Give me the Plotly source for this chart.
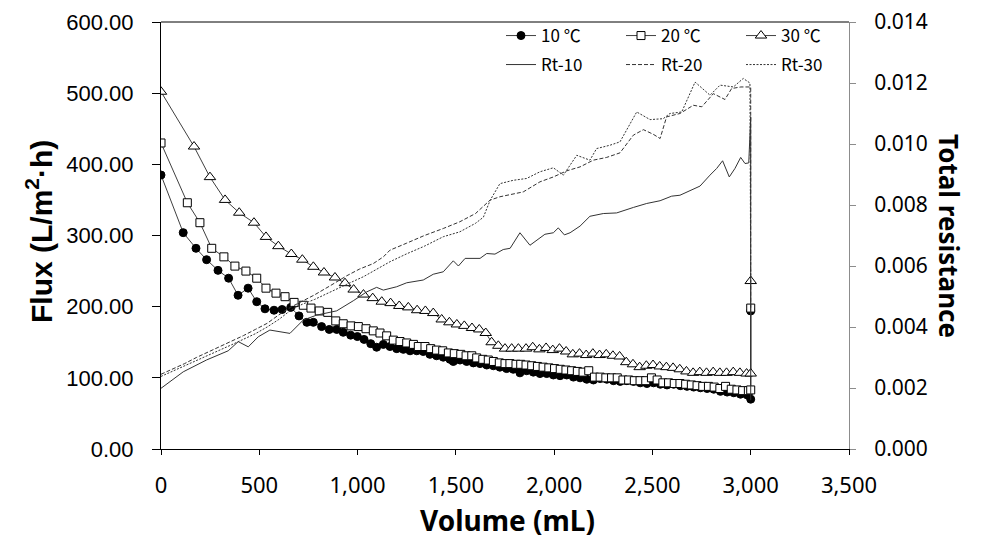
import plotly.graph_objects as go

# ---------------- data ----------------
vol_10 = [0, 113, 178, 232, 290, 344, 392, 443, 487, 529, 575, 616, 660, 702, 742, 775, 817, 856, 894, 927,
          965, 999, 1033, 1067, 1097, 1131, 1165, 1199, 1233, 1267, 1301, 1334, 1368, 1402, 1436, 1470, 1487,
          1521, 1555, 1589, 1623, 1657, 1691, 1724, 1758, 1792, 1826, 1860, 1894, 1928, 1962, 1996, 2030, 2064,
          2098, 2132, 2166, 2200, 2234, 2268, 2302, 2336, 2370, 2404, 2438, 2472, 2506, 2540, 2574, 2608, 2642,
          2676, 2710, 2744, 2778, 2812, 2846, 2880, 2914, 2948, 2982, 3000, 3000]
flux_10 = [385, 304, 282, 266, 251, 240, 216, 226, 207, 197, 195, 196, 199, 187, 178, 178, 172, 168, 168, 164,
           160, 158, 154, 148, 143, 147, 144, 141, 140, 138, 138, 137, 133, 131, 129, 126, 123,
           125, 123, 121, 120, 118, 117, 115, 113, 112, 107, 110, 108, 106, 106, 104, 103, 104,
           101, 100, 98, 97, 99, 98, 96, 95, 96, 95, 93, 92, 93, 91, 90, 91, 89,
           88, 87, 86, 85, 84, 81, 80, 79, 77, 76, 70, 194]

vol_20 = [0, 134, 198, 258, 320, 376, 432, 487, 534, 585, 631, 677, 724, 763, 805, 848, 889, 927, 967, 1004,
          1043, 1080, 1114, 1148, 1182, 1216, 1250, 1284, 1309, 1343, 1372, 1402, 1433, 1462, 1492, 1525, 1552,
          1581, 1606, 1637, 1665, 1691, 1721, 1750, 1775, 1806, 1830, 1857, 1886, 1915, 1944, 1973, 2002, 2031,
          2060, 2089, 2118, 2147, 2176, 2205, 2234, 2263, 2292, 2321, 2350, 2379, 2408, 2437, 2466, 2495, 2524,
          2553, 2582, 2611, 2640, 2669, 2698, 2727, 2756, 2785, 2814, 2843, 2872, 2901, 2930, 2959, 2988, 3000, 3000]
flux_20 = [430, 346, 318, 282, 270, 257, 250, 240, 226, 219, 214, 206, 202, 198, 194, 192, 180, 176, 173, 172,
           169, 166, 163, 159, 153, 151, 149, 147, 144, 144, 141, 139, 138, 135, 134, 133, 131,
           131, 128, 126, 125, 123, 121, 120, 120, 119, 119, 118, 117, 116, 115, 114, 113, 112,
           111, 110, 109, 108, 110, 101, 101, 100, 100, 100, 97, 97, 96, 96, 96, 100, 97,
           93, 93, 92, 92, 91, 90, 89, 88, 88, 87, 85, 88, 84, 83, 82, 82, 83, 198]

vol_30 = [0, 168, 249, 326, 398, 473, 534, 597, 663, 719, 775, 829, 885, 936, 980, 1030, 1077, 1123, 1168,
          1212, 1258, 1303, 1345, 1385, 1428, 1467, 1505, 1543, 1582, 1619, 1652, 1682, 1716, 1750, 1784,
          1818, 1857, 1891, 1925, 1959, 1993, 2027, 2061, 2095, 2129, 2163, 2197, 2231, 2265, 2299, 2333,
          2367, 2401, 2435, 2469, 2503, 2537, 2571, 2605, 2639, 2673, 2707, 2741, 2775, 2809, 2843, 2877,
          2911, 2945, 2979, 3000, 3000]
flux_30 = [502, 425, 382, 350, 332, 318, 298, 285, 274, 266, 256, 248, 241, 233, 224, 217, 212, 207, 205,
           201, 199, 195, 194, 191, 182, 178, 175, 173, 170, 168, 163, 150, 145, 141, 141,
           141, 141, 143, 140, 142, 139, 141, 137, 133, 134, 132, 134, 132, 133, 131, 130,
           122, 119, 115, 117, 118, 116, 115, 114, 112, 109, 107, 108, 107, 108, 107, 107,
           108, 107, 106, 106, 236]

vol_r10 = [0, 113, 232, 342, 393, 444, 495, 554, 656, 724, 792, 894, 978, 1046, 1097, 1131, 1199, 1250, 1334,
           1385, 1436, 1487, 1513, 1547, 1623, 1657, 1699, 1741, 1776, 1826, 1877, 1953, 1996, 2021, 2052,
           2081, 2132, 2182, 2250, 2318, 2403, 2471, 2539, 2598, 2640, 2691, 2742, 2793, 2827, 2857, 2891,
           2920, 2949, 2971, 2990, 3000, 3000]
rt_10 = [0.00199, 0.00253, 0.00292, 0.00322, 0.00352, 0.00335, 0.00368, 0.00390, 0.00379, 0.00423, 0.00439,
         0.00453, 0.00486, 0.00515, 0.00530, 0.00521, 0.00532, 0.00545, 0.00554, 0.00573, 0.00581, 0.00617,
         0.00600, 0.00625, 0.00625, 0.00641, 0.00639, 0.00654, 0.00658, 0.00709, 0.00668, 0.00704, 0.00709,
         0.00725, 0.00702, 0.00709, 0.00731, 0.00763, 0.00772, 0.00774, 0.00792, 0.00805, 0.00814, 0.00829,
         0.00832, 0.00846, 0.00862, 0.00898, 0.00920, 0.00945, 0.00892, 0.00920, 0.00956, 0.00936, 0.00938,
         0.01089, 0.00160]

vol_r20 = [0, 60, 120, 180, 240, 300, 360, 420, 480, 540, 600, 660, 720, 780, 860, 945, 1010, 1080, 1131,
           1165, 1250, 1340, 1436, 1520, 1600, 1674, 1724, 1780, 1843, 1928, 1996, 2064, 2132, 2199, 2267,
           2335, 2403, 2454, 2504, 2539, 2572, 2640, 2708, 2751, 2810, 2869, 2903, 2950, 3000, 3000]
rt_20 = [0.00245, 0.00262, 0.00280, 0.00300, 0.00318, 0.00335, 0.00352, 0.00372, 0.00392, 0.00412, 0.00440,
         0.00465, 0.00485, 0.00505, 0.00535, 0.00568, 0.00590, 0.00608, 0.00630, 0.00652, 0.00675, 0.00700,
         0.00723, 0.00745, 0.00772, 0.00816, 0.00827, 0.00835, 0.00843, 0.00876, 0.00892, 0.00912, 0.00925,
         0.00947, 0.00956, 0.00971, 0.01029, 0.01047, 0.01032, 0.01018, 0.01089, 0.01100, 0.01127, 0.01122,
         0.01165, 0.01146, 0.01182, 0.01187, 0.01187, 0.00460]

vol_r30 = [0, 60, 120, 180, 240, 300, 360, 420, 480, 540, 600, 660, 720, 780, 860, 945, 1030, 1100, 1165,
           1250, 1340, 1436, 1520, 1600, 1640, 1674, 1724, 1792, 1860, 1928, 1996, 2047, 2115, 2182, 2216,
           2284, 2335, 2420, 2488, 2555, 2589, 2649, 2717, 2793, 2844, 2912, 2962, 2996, 3000]
rt_30 = [0.00238, 0.00255, 0.00272, 0.00290, 0.00308, 0.00325, 0.00342, 0.00360, 0.00378, 0.00400, 0.00425,
         0.00455, 0.00475, 0.00490, 0.00515, 0.00540, 0.00565, 0.00590, 0.00614, 0.00640, 0.00665, 0.00696,
         0.00712, 0.00740, 0.00760, 0.00815, 0.00870, 0.00881, 0.00887, 0.00909, 0.00922, 0.00898, 0.00963,
         0.00947, 0.00985, 0.00996, 0.01007, 0.01105, 0.01080, 0.01083, 0.01100, 0.01105, 0.01203, 0.01160,
         0.01193, 0.01187, 0.01215, 0.01200, 0.00540]

x_ticks = [0, 500, 1000, 1500, 2000, 2500, 3000, 3500]
flux_ticks = [0, 100, 200, 300, 400, 500, 600]
rt_ticks = [0.000, 0.002, 0.004, 0.006, 0.008, 0.010, 0.012, 0.014]

# ---------------- figure ----------------
W, H = 990, 558
L, R, T, B = 161, 141, 22, 109
PW, PH = W - L - R, H - T - B

LINE = "#404040"
SANS = "Noto Sans, Noto Sans CJK KR, sans-serif"
CJK = "Noto Sans CJK KR, Noto Sans, sans-serif"
ARIAL = "Liberation Sans, Arial, sans-serif"

fig = go.Figure()
fig.add_trace(go.Scatter(x=vol_10, y=flux_10, name="10 ℃", mode="lines+markers",
                         line=dict(color=LINE, width=1),
                         marker=dict(symbol="circle", size=8, color="black",
                                     line=dict(color="black", width=1))))
fig.add_trace(go.Scatter(x=vol_20, y=flux_20, name="20 ℃", mode="lines+markers",
                         line=dict(color=LINE, width=1),
                         marker=dict(symbol="square", size=8, color="white",
                                     line=dict(color="black", width=1))))
fig.add_trace(go.Scatter(x=vol_30, y=flux_30, name="30 ℃", mode="lines+markers",
                         line=dict(color=LINE, width=1),
                         marker=dict(symbol="triangle-up", size=10, color="white",
                                     line=dict(color="black", width=1))))
fig.add_trace(go.Scatter(x=vol_r10, y=rt_10, name="Rt-10", mode="lines", yaxis="y2",
                         legend="legend2", line=dict(color="#333333", width=1)))
fig.add_trace(go.Scatter(x=vol_r20, y=rt_20, name="Rt-20", mode="lines", yaxis="y2",
                         legend="legend2", line=dict(color="#333333", width=1, dash="4px,2px")))
fig.add_trace(go.Scatter(x=vol_r30, y=rt_30, name="Rt-30", mode="lines", yaxis="y2",
                         legend="legend2", line=dict(color="#333333", width=1, dash="2px,1.5px")))

legend_common = dict(orientation="h", xref="container", yref="container",
                     xanchor="left", yanchor="middle", entrywidth=75, entrywidthmode="pixels",
                     font=dict(family=CJK, size=17, color="black"),
                     bgcolor="rgba(0,0,0,0)", borderwidth=0, itemwidth=30)

fig.update_layout(
    width=W, height=H,
    margin=dict(l=L, r=R, t=T, b=B, autoexpand=False),
    paper_bgcolor="white", plot_bgcolor="white",
    showlegend=True,
    legend=dict(x=501 / W, y=1 - 36 / H, **legend_common),
    legend2=dict(x=501 / W, y=1 - 65 / H, **legend_common),
    xaxis=dict(range=[0, 3500], tickvals=x_ticks, tickformat=",d",
               showline=True, linecolor="black", linewidth=1,
               ticks="outside", ticklen=5, tickcolor="black",
               showgrid=False, zeroline=False, ticklabelstandoff=12,
               tickfont=dict(family=SANS, size=22, color="black")),
    yaxis=dict(range=[0, 600], tickvals=flux_ticks, tickformat=".2f",
               showline=True, linecolor="black", linewidth=1,
               ticks="outside", ticklen=8, tickcolor="black",
               showgrid=False, zeroline=False, ticklabelstandoff=14,
               tickfont=dict(family=ARIAL, size=22, color="black")),
    yaxis2=dict(range=[0, 0.014], tickvals=rt_ticks, tickformat=".3f",
                overlaying="y", side="right", anchor="x",
                showline=True, linecolor="#8c8c8c", linewidth=1,
                ticks="outside", ticklen=6, tickcolor="#8c8c8c",
                showgrid=False, zeroline=False, ticklabelstandoff=14,
                tickfont=dict(family=SANS, size=21, color="black")),
    shapes=[dict(type="line", xref="paper", yref="paper", x0=0, x1=1, y0=1, y1=1,
                 line=dict(color="black", width=1))],
    annotations=[
        dict(text="<b>Flux (L/m<sup>2</sup>·h)</b>", xref="paper", yref="paper",
             x=(39 - L) / PW, y=1 - (232 - T) / PH, textangle=-90, showarrow=False,
             xanchor="center", yanchor="middle",
             font=dict(family=ARIAL, size=30, color="black")),
        dict(text="<b>Volume (mL)</b>", xref="paper", yref="paper",
             x=(507 - L) / PW, y=1 - (520 - T) / PH, showarrow=False,
             xanchor="center", yanchor="middle",
             font=dict(family=SANS, size=28, color="black")),
        dict(text="<b>Total resistance</b>", xref="paper", yref="paper",
             x=(949 - L) / PW, y=1 - (236 - T) / PH, textangle=90, showarrow=False,
             xanchor="center", yanchor="middle",
             font=dict(family=SANS, size=26, color="black")),
    ],
)

fig.write_html("out.html", config={"displayModeBar": False},
               post_script="document.body.style.margin='0px';")
